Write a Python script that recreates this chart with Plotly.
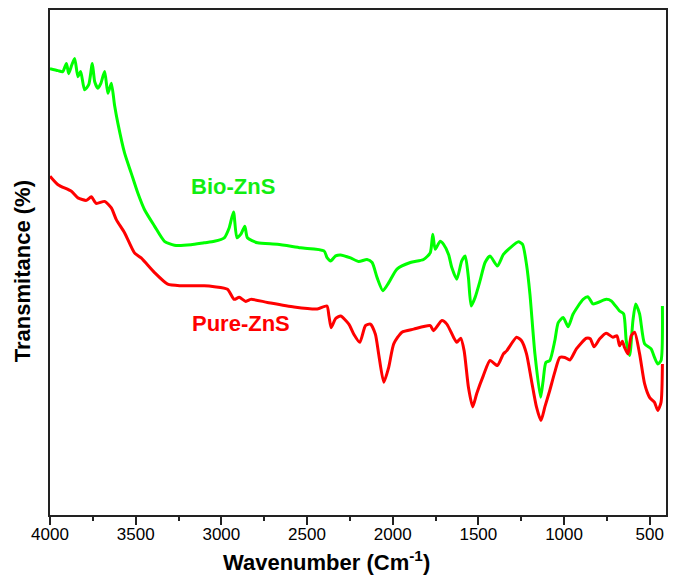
import plotly.graph_objects as go

# Bio-ZnS spectrum (wavenumber cm^-1, transmittance a.u.)
bio_wn = [4000, 3953, 3926, 3904, 3891, 3873, 3856, 3837, 3821, 3798, 3774, 3753, 3739, 3720,
          3704, 3681, 3662, 3642, 3623, 3604, 3565, 3526, 3488, 3449, 3390, 3332, 3274, 3177,
          3100, 3041, 2983, 2954, 2929, 2909, 2886, 2863, 2848, 2789, 2673, 2537, 2401, 2382,
          2362, 2333, 2304, 2246, 2198, 2150, 2120, 2091, 2057, 2023, 1975, 1897, 1820, 1781,
          1766, 1752, 1723, 1703, 1674, 1655, 1626, 1597, 1577, 1558, 1542, 1519, 1490, 1461,
          1432, 1389, 1354, 1315, 1266, 1242, 1219, 1199, 1170, 1137, 1122, 1106, 1083, 1054,
          1034, 1005, 976, 947, 889, 860, 831, 754, 724, 676, 652, 637, 617, 598, 582, 559,
          530, 492, 472, 453, 434, 426]
bio_t = [88.4, 88.0, 87.8, 89.4, 87.4, 89.1, 90.4, 86.8, 87.8, 84.2, 85.2, 89.4, 85.8, 84.5,
         85.4, 87.8, 83.5, 85.5, 81.1, 77.6, 71.7, 67.7, 63.8, 60.5, 57.2, 54.2, 53.4, 53.5,
         53.9, 54.2, 54.9, 56.9, 60.0, 54.9, 55.6, 57.2, 54.9, 53.9, 53.6, 52.9, 52.3, 50.9,
         50.3, 51.3, 51.5, 50.9, 50.2, 50.6, 50.0, 47.0, 44.4, 46.0, 48.7, 50.0, 50.6, 51.9,
         55.6, 52.6, 54.2, 53.6, 51.6, 49.0, 46.7, 50.3, 51.3, 47.0, 41.4, 43.1, 46.4, 50.0,
         51.3, 49.3, 51.6, 52.9, 54.1, 53.6, 49.6, 43.7, 31.9, 23.3, 26.6, 30.2, 30.6, 34.5,
         38.1, 39.1, 37.3, 39.8, 42.7, 43.2, 41.8, 42.7, 42.4, 40.4, 39.8, 34.5, 31.6, 38.5,
         41.8, 39.8, 33.9, 32.9, 31.2, 29.9, 30.6, 41.4]

# Pure-ZnS spectrum
pure_wn = [4000, 3953, 3875, 3837, 3788, 3759, 3730, 3681, 3642, 3613, 3565, 3507, 3468, 3390,
           3313, 3235, 3100, 3041, 2964, 2925, 2896, 2857, 2828, 2731, 2576, 2440, 2384, 2372,
           2359, 2333, 2304, 2256, 2227, 2192, 2159, 2130, 2101, 2082, 2052, 2023, 1994, 1946,
           1878, 1781, 1762, 1713, 1684, 1645, 1626, 1603, 1583, 1558, 1533, 1510, 1471, 1432,
           1389, 1354, 1335, 1277, 1248, 1219, 1190, 1161, 1135, 1112, 1083, 1054, 1025, 995,
           966, 928, 870, 847, 825, 792, 754, 715, 691, 676, 660, 647, 627, 608, 588, 559, 530,
           501, 472, 453, 434, 426]
pure_t = [67.1, 65.4, 64.1, 62.8, 62.3, 63.0, 61.7, 62.1, 60.8, 58.5, 55.9, 51.9, 50.9, 48.0,
          45.7, 45.4, 45.4, 45.2, 44.7, 42.7, 43.1, 42.3, 42.7, 42.1, 41.2, 40.8, 41.4, 39.4,
          37.1, 38.9, 39.4, 37.8, 35.8, 34.2, 37.5, 37.8, 35.8, 31.9, 26.3, 29.3, 33.9, 36.2,
          36.8, 37.5, 36.5, 38.5, 37.8, 35.2, 34.2, 35.0, 32.5, 25.3, 21.4, 24.0, 27.6, 30.6,
          29.6, 31.9, 32.5, 35.2, 34.5, 31.9, 26.6, 21.4, 18.7, 21.4, 24.7, 28.3, 31.2, 31.2,
          30.7, 32.9, 35.0, 34.9, 33.3, 34.9, 36.0, 35.2, 35.5, 33.5, 34.4, 33.2, 31.9, 35.5,
          36.2, 31.9, 26.0, 23.3, 22.3, 20.7, 22.3, 29.9]

x_ticks = [4000, 3500, 3000, 2500, 2000, 1500, 1000, 500]
x_minor = [3750, 3250, 2750, 2250, 1750, 1250, 750]

FONT = "Arial, 'Liberation Sans', sans-serif"

fig = go.Figure()
fig.add_trace(go.Scatter(x=bio_wn, y=bio_t, mode="lines", name="Bio-ZnS",
                         line=dict(color="#00ff00", width=3, shape="spline", smoothing=0.6),
                         showlegend=False))
fig.add_trace(go.Scatter(x=pure_wn, y=pure_t, mode="lines", name="Pure-ZnS",
                         line=dict(color="#ff0000", width=3, shape="spline", smoothing=0.6),
                         showlegend=False))

fig.add_annotation(x=2931, y=65.1, text="<b>Bio-ZnS</b>", showarrow=False,
                   xanchor="center", yanchor="middle",
                   font=dict(family=FONT, size=22, color="#11ee11"))
fig.add_annotation(x=2885, y=37.9, text="<b>Pure-ZnS</b>", showarrow=False,
                   xanchor="center", yanchor="middle",
                   font=dict(family=FONT, size=22, color="#ff0000"))

# axis titles
fig.add_annotation(xref="paper", yref="paper", x=0.449, y=-0.091,
                   xanchor="center", yanchor="middle",
                   text="<b>Wavenumber (Cm<sup>-1</sup>)</b>", showarrow=False,
                   font=dict(family=FONT, size=22, color="black"))
fig.add_annotation(xref="paper", yref="paper", x=-0.0453, y=0.483, textangle=-90,
                   xanchor="center", yanchor="middle",
                   text="<b>Transmitance (%)</b>", showarrow=False,
                   font=dict(family=FONT, size=22, color="black"))

fig.update_layout(
    width=676, height=579,
    margin=dict(l=50, r=8, t=8, b=64),
    paper_bgcolor="white", plot_bgcolor="white",
    font=dict(family=FONT, color="black"),
)
fig.update_xaxes(
    range=[4000, 405], tickvals=x_ticks, ticks="outside", ticklen=8, tickwidth=1.5,
    tickcolor="#222", showline=True, linecolor="#222", linewidth=1.5, mirror=True,
    showgrid=False, zeroline=False, tickfont=dict(size=17, family=FONT, color="black"),
    ticklabelstandoff=-5,
    minor=dict(tickvals=x_minor, ticks="outside",
               ticklen=4, tickwidth=1.5, tickcolor="#222", showgrid=False),
)
fig.update_yaxes(
    range=[0, 100], showticklabels=False, ticks="", showline=True, linecolor="#222",
    linewidth=1.5, mirror=True, showgrid=False, zeroline=False,
)

fig.write_html("out.html")
